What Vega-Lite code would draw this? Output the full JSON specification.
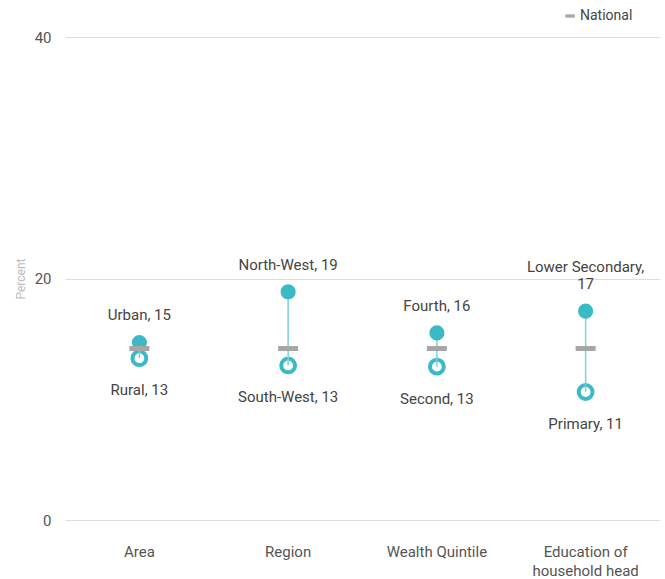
{
  "$schema": "https://vega.github.io/schema/vega-lite/v6.json",
  "width": 595,
  "height": 483,
  "autosize": {"type": "none"},
  "padding": {"left": 65, "top": 37, "right": 5, "bottom": 59},
  "background": "white",
  "config": {
    "view": {"stroke": null},
    "font": "Roboto",
    "text": {"font": "Roboto"}
  },
  "data": {
    "values": [
      {"group": "Area", "high": 14.7, "low": 13.4, "national": 14.2, "highLabel": "Urban, 15", "lowLabel": "Rural, 13"},
      {"group": "Region", "high": 18.9, "low": 12.8, "national": 14.2, "highLabel": "North-West, 19", "lowLabel": "South-West, 13"},
      {"group": "Wealth Quintile", "high": 15.5, "low": 12.7, "national": 14.2, "highLabel": "Fourth, 16", "lowLabel": "Second, 13"},
      {"group": "Education of household head", "high": 17.3, "low": 10.6, "national": 14.2, "highLabel": "Lower Secondary,\n17", "lowLabel": "Primary, 11"}
    ]
  },
  "encoding": {
    "x": {
      "field": "group",
      "type": "nominal",
      "sort": null,
      "scale": {"paddingInner": 0, "paddingOuter": 0},
      "axis": {
        "title": null,
        "labelAngle": 0,
        "ticks": false,
        "domain": false,
        "labelPadding": 24,
        "labelFontSize": 15,
        "labelColor": "#555555",
        "labelFont": "Roboto",
        "labelLineHeight": 19,
        "labelExpr": "datum.label == 'Education of household head' ? ['Education of', 'household head'] : datum.label"
      }
    }
  },
  "layer": [
    {
      "mark": {"type": "point", "filled": true, "fill": "white", "stroke": "#3cb9c6", "strokeWidth": 4, "size": 190, "opacity": 1},
      "encoding": {
        "y": {
          "field": "low",
          "type": "quantitative",
          "scale": {"domain": [0, 40]},
          "axis": {
            "values": [0, 20, 40],
            "title": "Percent",
            "titleColor": "#bbbbbb",
            "titleFontSize": 12,
            "titleFontWeight": "normal",
            "titleFont": "Roboto",
            "titlePadding": 7,
            "labelFontSize": 15,
            "labelColor": "#555555",
            "labelFont": "Roboto",
            "labelPadding": 14,
            "ticks": false,
            "domain": false,
            "gridColor": "#dddddd",
            "gridWidth": 1
          }
        }
      }
    },
    {
      "mark": {"type": "rule", "color": "#7dd2dc", "strokeWidth": 1.5},
      "encoding": {
        "y": {"field": "low", "type": "quantitative"},
        "y2": {"field": "high"}
      }
    },
    {
      "mark": {"type": "point", "filled": true, "color": "#3cb9c6", "size": 230, "opacity": 1},
      "encoding": {
        "y": {"field": "high", "type": "quantitative"}
      }
    },
    {
      "mark": {"type": "tick", "thickness": 5, "size": 20, "opacity": 1},
      "encoding": {
        "y": {"field": "national", "type": "quantitative"},
        "color": {
          "datum": "National",
          "type": "nominal",
          "scale": {"range": ["#a6a6a6"]},
          "legend": {
            "title": null,
            "orient": "none",
            "legendX": 498,
            "legendY": -28,
            "symbolType": "M-1,-0.35H1V0.35H-1Z",
            "symbolSize": 90,
            "symbolStrokeWidth": 0,
            "labelFontSize": 14,
            "labelColor": "#444444",
            "labelFont": "Roboto",
            "labelOffset": 3
          }
        }
      }
    },
    {
      "transform": [{"filter": "indexof(datum.highLabel, '\\n') < 0"}],
      "mark": {"type": "text", "baseline": "bottom", "dy": -19, "fontSize": 15, "color": "#444444"},
      "encoding": {
        "y": {"field": "high", "type": "quantitative"},
        "text": {"field": "highLabel"}
      }
    },
    {
      "transform": [{"filter": "indexof(datum.highLabel, '\\n') >= 0"}],
      "mark": {"type": "text", "baseline": "bottom", "dy": -36, "fontSize": 15, "color": "#444444", "lineBreak": "\n", "lineHeight": 17},
      "encoding": {
        "y": {"field": "high", "type": "quantitative"},
        "text": {"field": "highLabel"}
      }
    },
    {
      "mark": {"type": "text", "baseline": "top", "dy": 25, "fontSize": 15, "color": "#444444"},
      "encoding": {
        "y": {"field": "low", "type": "quantitative"},
        "text": {"field": "lowLabel"}
      }
    }
  ]
}
